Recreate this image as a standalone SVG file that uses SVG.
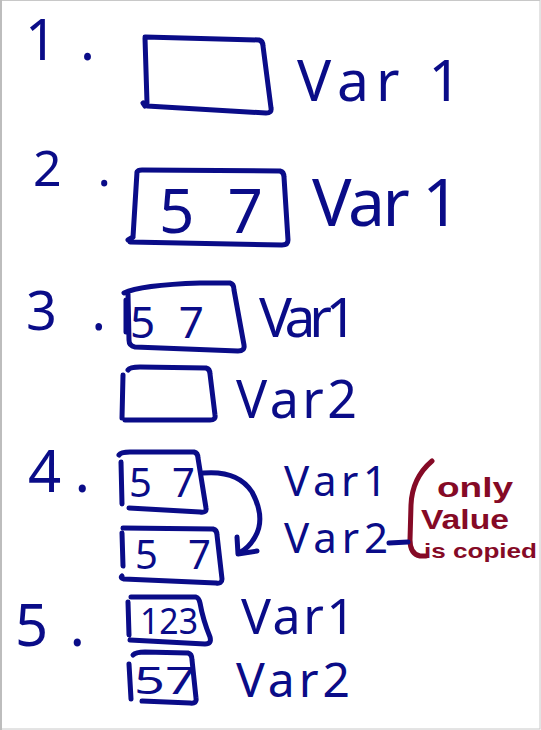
<svg xmlns="http://www.w3.org/2000/svg" width="541" height="730" viewBox="0 0 541 730">
<style>
.ink{fill:none;stroke:#0a0c88;stroke-width:5;stroke-linecap:round;stroke-linejoin:round}
.red{fill:none;stroke:#850a26;stroke-width:5;stroke-linecap:round;stroke-linejoin:round}
.t{font-family:"Noto Sans","DejaVu Sans",sans-serif;fill:#0a0c88}
.rt{font-family:"Liberation Sans",Arial,sans-serif;fill:#850a26;font-weight:bold}
</style>
<rect x="0.5" y="0.5" width="539.5" height="728.5" fill="#ffffff" stroke="#c8c8c8" stroke-width="1"/>
<line x1="1" y1="0" x2="1" y2="730" stroke="#bdbdbd" stroke-width="2"/>

<g id="step1">
<text class="t" x="25" y="60" font-size="56" textLength="70" lengthAdjust="spacing">1.</text>
<path class="ink" d="M145,37 L259,40 Q263,41 263,46 L271,108 Q272,113 266,113 L147,106 M143,103 L145,106 M145,38 L147,103"/>
<text class="t" x="297" y="101" font-size="57" textLength="164" lengthAdjust="spacing">Var 1</text>
</g>

<g id="step2">
<text class="t" x="33" y="186" font-size="50" textLength="78" lengthAdjust="spacing">2.</text>
<path class="ink" d="M137,172 Q138,170 142,170 L280,171 Q284,172 284,177 L288,240 Q288,245 282,245 L130,242 M128,240 L133,237 M137,172 L133,237"/>
<text class="t" x="159" y="233" font-size="62" textLength="104" lengthAdjust="spacing">57</text>
<text class="t" x="312" y="226" font-size="66" textLength="148" lengthAdjust="spacing">Var 1</text>
</g>

<g id="step3">
<text class="t" x="26" y="330" font-size="54" textLength="80" lengthAdjust="spacing">3.</text>
<path class="ink" d="M124,293 Q140,285 200,283 L230,283 Q234,284 234,290 L244,345 Q245,351 238,351 L135,347 Q129,346 129,340 L128,294 M126,300 L126,332"/>
<text class="t" x="130" y="338" font-size="44" textLength="74" lengthAdjust="spacing">57</text>
<text class="t" x="259" y="337" font-size="55" textLength="98" lengthAdjust="spacing">Var1</text>
<path class="ink" d="M128,370 Q130,367 140,367 L206,368 Q210,369 210,374 L215,415 Q216,420 210,420 L125,420 M123,375 L122,418"/>
<text class="t" x="236" y="418" font-size="52" textLength="121" lengthAdjust="spacing">Var2</text>
</g>

<g id="step4">
<text class="t" x="28" y="492" font-size="58" textLength="62" lengthAdjust="spacing">4.</text>
<path class="ink" d="M119,455 Q121,452 130,452 L194,452 Q198,453 198,458 L206,508 Q207,513 200,512 L129,508 M121,462 L122,504"/>
<text class="t" x="129" y="497" font-size="40" textLength="66" lengthAdjust="spacing">57</text>
<path class="ink" d="M123,528 L213,529 Q217,530 217,535 L222,579 Q222,584 216,583 L124,579 Q120,578 122,576 M122,533 L123,566"/>
<text class="t" x="135" y="569" font-size="40" textLength="76" lengthAdjust="spacing">57</text>
<text class="t" x="284" y="496" font-size="42" textLength="103" lengthAdjust="spacing">Var1</text>
<text class="t" x="284" y="553" font-size="42" textLength="104" lengthAdjust="spacing">Var2</text>
</g>

<g id="note">
<path class="red" d="M432,461 Q412,478 411,505 L410,540 Q410,554 420,556 L426,556"/>
<text class="rt" x="437" y="497" font-size="27" textLength="76" lengthAdjust="spacingAndGlyphs">only</text>
<text class="rt" x="421" y="529" font-size="27" textLength="88" lengthAdjust="spacingAndGlyphs">Value</text>
<text class="rt" x="424" y="558" font-size="21" textLength="113" lengthAdjust="spacingAndGlyphs">is copied</text>
</g>

<g id="step5">
<text class="t" x="15" y="646" font-size="58" textLength="70" lengthAdjust="spacing">5.</text>
<path class="ink" d="M131,597 L196,597 Q199,598 200,603 Q203,620 210,637 Q212,644 205,644 L130,640 M128,602 L129,635"/>
<text class="t" x="140" y="634" font-size="36" textLength="58" lengthAdjust="spacingAndGlyphs">123</text>
<path class="ink" d="M133,655 Q136,652 145,652 L188,653 Q192,654 192,660 L196,698 Q197,704 190,703 L142,701 M129,664 L131,699"/>
<text class="t" x="134" y="694" font-size="38" textLength="62" lengthAdjust="spacingAndGlyphs">57</text>
<text class="t" x="241" y="634" font-size="50" textLength="114" lengthAdjust="spacing">Var1</text>
<text class="t" x="236" y="697" font-size="48" textLength="114" lengthAdjust="spacing">Var2</text>
</g>

<g id="connectors">
<path class="ink" d="M203,473 Q238,470 252,492 Q266,518 255,537 Q249,548 239,553"/>
<path class="ink" d="M237,537 L238,554 L257,551"/>
<path class="ink" d="M389,543 L408,542"/>
</g>
</svg>
